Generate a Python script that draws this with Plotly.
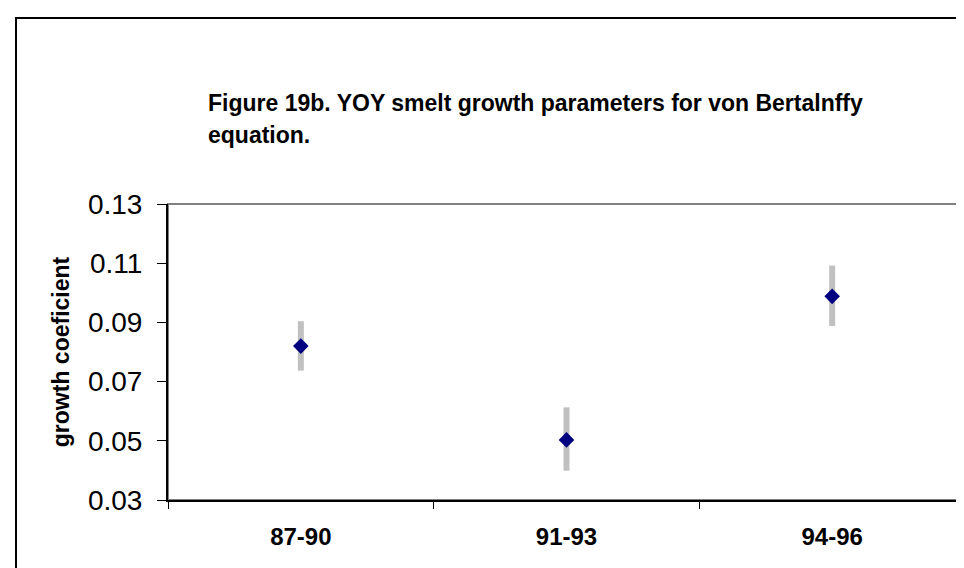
import plotly.graph_objects as go

# growth coefficient by period, with error bar extents
periods = ["87-90", "91-93", "94-96"]
growth_coef = [0.082, 0.0503, 0.0988]
err_plus = [0.0084, 0.0110, 0.0104]
err_minus = [0.0083, 0.0104, 0.0100]

y_ticks = [0.03, 0.05, 0.07, 0.09, 0.11, 0.13]

title_lines = ["Figure 19b. YOY smelt growth parameters for von Bertalnffy",
               "equation."]

font_family = "Liberation Sans, Arial, sans-serif"

fig = go.Figure()

fig.add_trace(go.Scatter(
    x=periods,
    y=growth_coef,
    mode="markers",
    marker=dict(symbol="diamond", size=12, color="#000080"),
    error_y=dict(
        type="data",
        symmetric=False,
        array=err_plus,
        arrayminus=err_minus,
        color="#c0c0c0",
        thickness=6,
        width=0,
    ),
    showlegend=False,
))

fig.update_xaxes(
    type="category",
    range=[-0.5, 2.5],
    tickson="boundaries",
    ticks="outside",
    ticklen=7,
    tickcolor="black",
    showline=True,
    linecolor="black",
    linewidth=2,
    showgrid=False,
    zeroline=False,
    tickfont=dict(family=font_family, size=24, color="black", weight="bold"),
    ticklabelstandoff=14,
)

fig.update_yaxes(
    range=[0.03, 0.13],
    tickvals=y_ticks,
    ticktext=["%.2f" % v for v in y_ticks],
    ticks="outside",
    ticklen=9,
    tickcolor="black",
    showline=True,
    linecolor="black",
    linewidth=2,
    showgrid=False,
    zeroline=False,
    tickfont=dict(family=font_family, size=28, color="black"),
    ticklabelstandoff=9,
    title=dict(text="<b>growth coeficient</b>",
               font=dict(family=font_family, size=23, color="black"),
               standoff=12),
)

# plot area border (grey top / right like Excel)
fig.add_shape(type="rect", xref="paper", yref="paper", x0=0, x1=1, y0=0, y1=1,
              line=dict(color="#808080", width=2), layer="below")

# outer chart frame
fig.add_shape(type="rect", xref="paper", yref="paper",
              x0=(8 - 160) / 797, x1=1.2, y0=-0.5, y1=(492 - 10) / 296,
              line=dict(color="black", width=2))

for i, line in enumerate(title_lines):
    fig.add_annotation(
        text="<b>%s</b>" % line,
        xref="paper", yref="paper",
        x=(198 - 160) / 797, y=(492 - (95 + 32 * i)) / 296,
        xanchor="left", yanchor="middle",
        showarrow=False,
        font=dict(family=font_family, size=23, color="black"),
    )

fig.update_layout(
    width=964,
    height=568,
    margin=dict(l=160, r=7, t=196, b=76),
    paper_bgcolor="white",
    plot_bgcolor="white",
    font=dict(family=font_family, color="black"),
)

fig.write_html("out.html")
